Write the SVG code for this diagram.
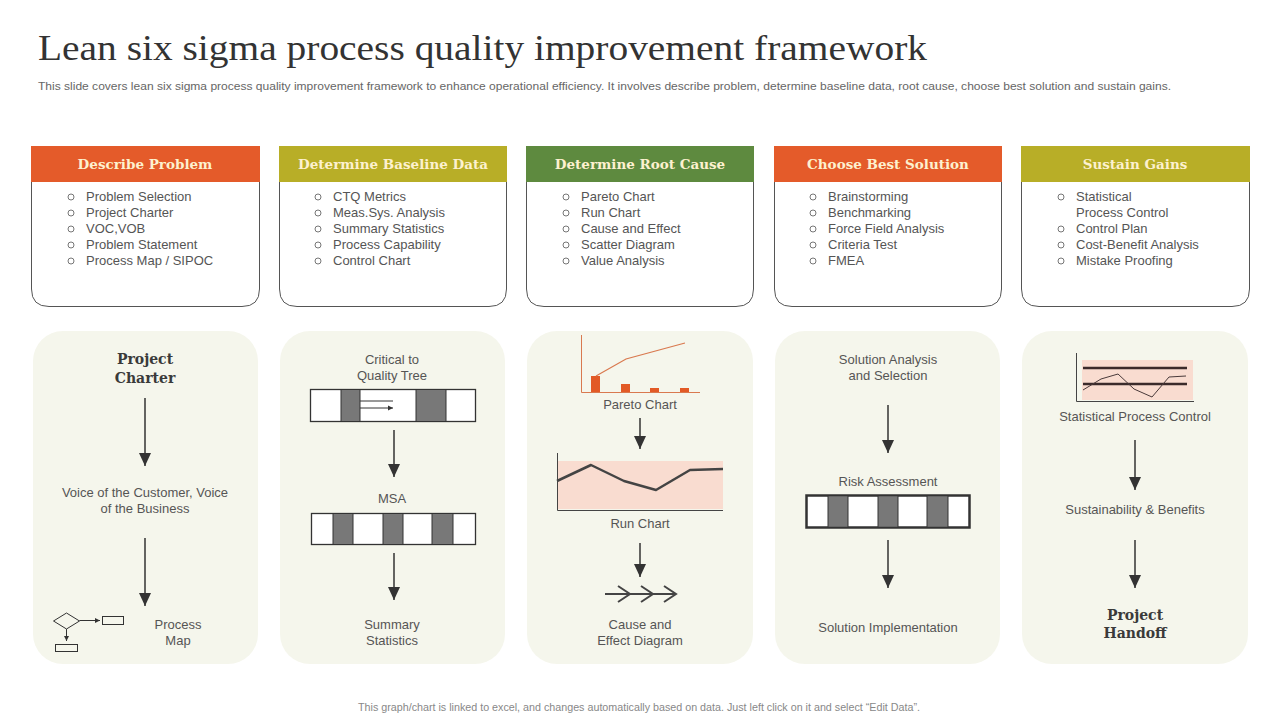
<svg xmlns="http://www.w3.org/2000/svg" width="1280" height="720" viewBox="0 0 1280 720">
<style>
.title{font-family:"Liberation Serif",serif;font-size:35px;fill:#333}
.sub{font-family:"Liberation Sans",sans-serif;font-size:11.5px;fill:#666}
.foot{font-family:"Liberation Sans",sans-serif;font-size:10px;fill:#888}
.card{fill:#fff;stroke:#555;stroke-width:1}
.hdr{font-family:"DejaVu Serif","Liberation Serif",serif;font-weight:bold;font-size:13.5px;fill:#fdf1cf;text-anchor:middle}
.li{font-family:"Liberation Sans",sans-serif;font-size:13px;fill:#555}
.bul{fill:none;stroke:#666;stroke-width:0.9}
.panel{fill:#f5f6ec}
.lbl{font-family:"Liberation Sans",sans-serif;font-size:13px;fill:#555;text-anchor:middle}
.blbl{font-family:"DejaVu Serif","Liberation Serif",serif;font-weight:bold;font-size:14px;fill:#3a3a3a;text-anchor:middle}
.arr{stroke:#333;stroke-width:1.5;fill:none;marker-end:url(#ah)}
.bar{fill:#fff;stroke:#333;stroke-width:1.3}
.dk{fill:#787878}
.thin{stroke:#333;stroke-width:1;fill:none}
</style>
<defs>
<marker id="ah" markerUnits="userSpaceOnUse" markerWidth="14" markerHeight="14" viewBox="0 0 14 14" refX="13" refY="7" orient="auto">
<path d="M0,1 L13,7 L0,13 Z" fill="#333"/>
</marker>
<marker id="sa" markerUnits="userSpaceOnUse" markerWidth="6" markerHeight="6" viewBox="0 0 6 6" refX="5" refY="3" orient="auto">
<path d="M0,0.5 L5,3 L0,5.5 Z" fill="#333"/>
</marker>
</defs>
<rect width="1280" height="720" fill="#fff"/>
<text class="title" x="38" y="60" textLength="889" lengthAdjust="spacingAndGlyphs">Lean six sigma process quality improvement framework</text>
<text class="sub" x="38" y="90" textLength="1133" lengthAdjust="spacingAndGlyphs">This slide covers lean six sigma process quality improvement framework to enhance operational efficiency. It involves describe problem, determine baseline data, root cause, choose best solution and sustain gains.</text>

<g id="card1">
<path class="card" d="M31.5,146.5 H259.5 V289 Q259.5,306.5 242,306.5 H49 Q31.5,306.5 31.5,289 Z"/>
<rect x="31" y="146" width="229" height="36" fill="#e45b2a"/>
<text class="hdr" x="145" y="169">Describe  Problem</text>
<g class="bul"><circle cx="71" cy="197" r="3"/><circle cx="71" cy="213" r="3"/><circle cx="71" cy="229" r="3"/><circle cx="71" cy="245" r="3"/><circle cx="71" cy="261" r="3"/></g>
<text class="li" x="86" y="201">Problem Selection</text>
<text class="li" x="86" y="217">Project Charter</text>
<text class="li" x="86" y="233">VOC,VOB</text>
<text class="li" x="86" y="249">Problem Statement</text>
<text class="li" x="86" y="265">Process Map / SIPOC</text>
</g>
<g id="card2">
<path class="card" d="M279.5,146.5 H506.5 V289 Q506.5,306.5 489,306.5 H297 Q279.5,306.5 279.5,289 Z"/>
<rect x="279" y="146" width="228" height="36" fill="#b8ae27"/>
<text class="hdr" x="393" y="169">Determine  Baseline  Data</text>
<g class="bul"><circle cx="318" cy="197" r="3"/><circle cx="318" cy="213" r="3"/><circle cx="318" cy="229" r="3"/><circle cx="318" cy="245" r="3"/><circle cx="318" cy="261" r="3"/></g>
<text class="li" x="333" y="201">CTQ Metrics</text>
<text class="li" x="333" y="217">Meas.Sys. Analysis</text>
<text class="li" x="333" y="233">Summary Statistics</text>
<text class="li" x="333" y="249">Process Capability</text>
<text class="li" x="333" y="265">Control Chart</text>
</g>
<g id="card3">
<path class="card" d="M526.5,146.5 H753.5 V289 Q753.5,306.5 736,306.5 H544 Q526.5,306.5 526.5,289 Z"/>
<rect x="526" y="146" width="228" height="36" fill="#5e8a3f"/>
<text class="hdr" x="640" y="169">Determine  Root  Cause</text>
<g class="bul"><circle cx="566" cy="197" r="3"/><circle cx="566" cy="213" r="3"/><circle cx="566" cy="229" r="3"/><circle cx="566" cy="245" r="3"/><circle cx="566" cy="261" r="3"/></g>
<text class="li" x="581" y="201">Pareto Chart</text>
<text class="li" x="581" y="217">Run Chart</text>
<text class="li" x="581" y="233">Cause and Effect</text>
<text class="li" x="581" y="249">Scatter Diagram</text>
<text class="li" x="581" y="265">Value Analysis</text>
</g>
<g id="card4">
<path class="card" d="M774.5,146.5 H1001.5 V289 Q1001.5,306.5 984,306.5 H792 Q774.5,306.5 774.5,289 Z"/>
<rect x="774" y="146" width="228" height="36" fill="#e45b2a"/>
<text class="hdr" x="888" y="169">Choose Best Solution</text>
<g class="bul"><circle cx="813" cy="197" r="3"/><circle cx="813" cy="213" r="3"/><circle cx="813" cy="229" r="3"/><circle cx="813" cy="245" r="3"/><circle cx="813" cy="261" r="3"/></g>
<text class="li" x="828" y="201">Brainstorming</text>
<text class="li" x="828" y="217">Benchmarking</text>
<text class="li" x="828" y="233">Force Field Analysis</text>
<text class="li" x="828" y="249">Criteria Test</text>
<text class="li" x="828" y="265">FMEA</text>
</g>
<g id="card5">
<path class="card" d="M1021.5,146.5 H1249.5 V289 Q1249.5,306.5 1232,306.5 H1039 Q1021.5,306.5 1021.5,289 Z"/>
<rect x="1021" y="146" width="229" height="36" fill="#b8ae27"/>
<text class="hdr" x="1135" y="169">Sustain Gains</text>
<g class="bul"><circle cx="1061" cy="197" r="3"/><circle cx="1061" cy="229" r="3"/><circle cx="1061" cy="245" r="3"/><circle cx="1061" cy="261" r="3"/></g>
<text class="li" x="1076" y="201">Statistical</text>
<text class="li" x="1076" y="217">Process Control</text>
<text class="li" x="1076" y="233">Control Plan</text>
<text class="li" x="1076" y="249">Cost-Benefit  Analysis</text>
<text class="li" x="1076" y="265">Mistake Proofing</text>
</g>

<g id="panel1">
<rect class="panel" x="33" y="331" width="225" height="333" rx="30"/>
<text class="blbl" x="145" y="364">Project</text>
<text class="blbl" x="145" y="383">Charter</text>
<text class="lbl" x="145" y="497">Voice of the Customer, Voice</text>
<text class="lbl" x="145" y="513">of the Business</text>
<path d="M53.5,621 L66.5,613 L79.5,621 L66.5,629 Z" class="thin"/>
<path d="M79.5,620.5 H100" class="thin" marker-end="url(#sa)"/>
<rect x="102.5" y="616.5" width="21" height="8" class="thin"/>
<path d="M66.5,629 V641" class="thin" marker-end="url(#sa)"/>
<rect x="55.5" y="644.5" width="22" height="7" class="thin"/>
<text class="lbl" x="178" y="629">Process</text>
<text class="lbl" x="178" y="645">Map</text>
</g>
<g id="panel2">
<rect class="panel" x="280" y="331" width="225" height="333" rx="30"/>
<text class="lbl" x="392" y="364">Critical to</text>
<text class="lbl" x="392" y="380">Quality Tree</text>
<rect class="bar" x="310.5" y="389.5" width="165" height="32"/>
<rect class="dk" x="341" y="390" width="19" height="31"/>
<rect class="dk" x="416" y="390" width="30" height="31"/>
<path d="M341,389.5 V421.5 M360,389.5 V421.5 M416,389.5 V421.5 M446,389.5 V421.5" stroke="#333" stroke-width="1"/>
<path d="M360,401 H393 M360,408 H393" class="thin" stroke-width="0.9" marker-end="url(#sa)"/>
<text class="lbl" x="392" y="503">MSA</text>
<rect class="bar" x="311.5" y="513.5" width="164" height="31"/>
<rect class="dk" x="333" y="514" width="20" height="30"/>
<rect class="dk" x="383" y="514" width="20" height="30"/>
<rect class="dk" x="432" y="514" width="21" height="30"/>
<path d="M333,513.5 V544.5 M353,513.5 V544.5 M383,513.5 V544.5 M403,513.5 V544.5 M432,513.5 V544.5 M453,513.5 V544.5" stroke="#333" stroke-width="1"/>
<text class="lbl" x="392" y="629">Summary</text>
<text class="lbl" x="392" y="645">Statistics</text>
</g>
<g id="panel3">
<rect class="panel" x="527" y="331" width="226" height="333" rx="30"/>
<path d="M581.5,335 V392.5 H700" fill="none" stroke="#d9794f" stroke-width="1"/>
<g fill="#e25a26"><rect x="591" y="376" width="9" height="16"/><rect x="621" y="384" width="9" height="8"/><rect x="650" y="388" width="9" height="4"/><rect x="680" y="388" width="9" height="4"/></g>
<path d="M596,376 L626,359 L685,343" fill="none" stroke="#d9794f" stroke-width="1.2"/>
<text class="lbl" x="640" y="409">Pareto Chart</text>
<rect x="557" y="461" width="166" height="48" fill="#f9dcd0"/>
<path d="M557.5,453 V510.5 H723" fill="none" stroke="#444" stroke-width="1"/>
<path d="M557,481 L591,465 L624,481 L656,490 L690,470 L723,469" fill="none" stroke="#444" stroke-width="2.5" stroke-linejoin="round"/>
<text class="lbl" x="640" y="528">Run Chart</text>
<path d="M605,594 H676 M618,586 L630,594 L618,602 M641,586 L653,594 L641,602 M664,586 L676,594 L664,602" fill="none" stroke="#444" stroke-width="2"/>
<text class="lbl" x="640" y="629">Cause and</text>
<text class="lbl" x="640" y="645">Effect Diagram</text>
</g>
<g id="panel4">
<rect class="panel" x="775" y="331" width="225" height="333" rx="30"/>
<text class="lbl" x="888" y="364">Solution Analysis</text>
<text class="lbl" x="888" y="380">and Selection</text>
<text class="lbl" x="888" y="486">Risk Assessment</text>
<rect x="806.5" y="495.5" width="163" height="32" fill="#fff" stroke="#333" stroke-width="2.5"/>
<rect class="dk" x="828" y="497" width="20" height="29"/>
<rect class="dk" x="878" y="497" width="20" height="29"/>
<rect class="dk" x="927" y="497" width="21" height="29"/>
<path d="M828,496 V527 M848,496 V527 M878,496 V527 M898,496 V527 M927,496 V527 M948,496 V527" stroke="#333" stroke-width="1"/>
<text class="lbl" x="888" y="632">Solution Implementation</text>
</g>
<g id="panel5">
<rect class="panel" x="1022" y="331" width="226" height="333" rx="30"/>
<rect x="1082" y="360" width="111" height="40" fill="#f9dcd0"/>
<path d="M1076.5,353 V401.5 H1194" fill="none" stroke="#444" stroke-width="1"/>
<path d="M1083,368 H1187 M1083,384 H1187" stroke="#3b2b2b" stroke-width="2.5"/>
<path d="M1083,390 L1101,379 L1118,374 L1134,389 L1152,397 L1169,377 L1186,376" fill="none" stroke="#4a3a3a" stroke-width="1"/>
<text class="lbl" x="1135" y="421">Statistical Process Control</text>
<text class="lbl" x="1135" y="514">Sustainability &amp; Benefits</text>
<text class="blbl" x="1135" y="620">Project</text>
<text class="blbl" x="1135" y="638">Handoff</text>
</g>

<g id="connectors">
<path class="arr" d="M145,398 V466"/>
<path class="arr" d="M145,538 V606"/>
<path class="arr" d="M394,430 V477"/>
<path class="arr" d="M394,553 V600"/>
<path class="arr" d="M640,418 V449"/>
<path class="arr" d="M640,543 V577"/>
<path class="arr" d="M888,405 V453"/>
<path class="arr" d="M888,540 V588"/>
<path class="arr" d="M1135,440 V490"/>
<path class="arr" d="M1135,540 V588"/>
</g>

<text class="foot" x="639" y="711" text-anchor="middle" textLength="562" lengthAdjust="spacingAndGlyphs">This graph/chart is linked to excel, and changes automatically based on data. Just left click on it and select “Edit Data”.</text>
</svg>
